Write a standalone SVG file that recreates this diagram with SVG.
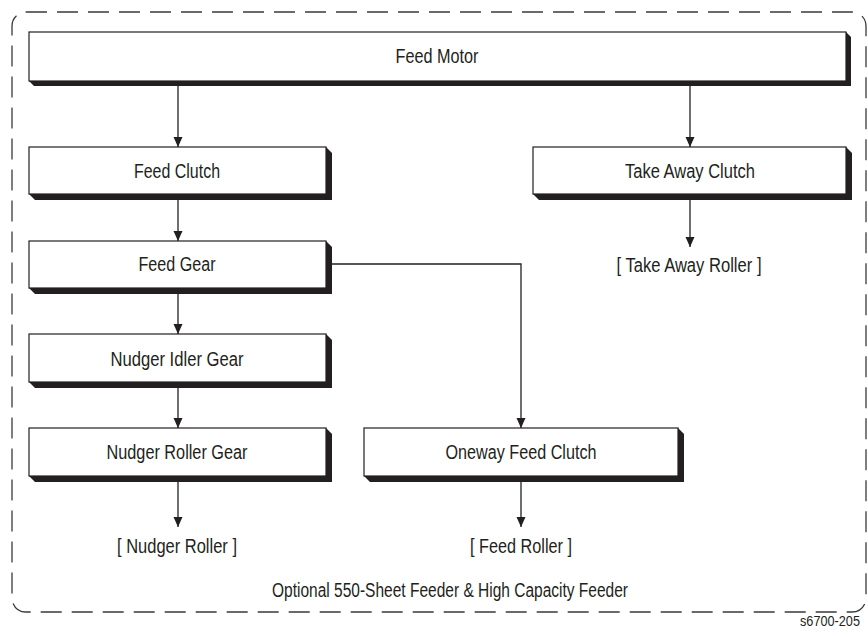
<svg xmlns="http://www.w3.org/2000/svg" width="868" height="637" viewBox="0 0 868 637">
  <style>
    .frame { fill: none; stroke: #3a3a3a; stroke-width: 1.3; stroke-dasharray: 21 10; }
    .box { fill: #ffffff; stroke: #231f20; stroke-width: 1.2; }
    .shadow { fill: #231f20; }
    .lbl { font-family: "Liberation Sans", Arial, sans-serif; font-size: 19.5px; fill: #231f20; text-anchor: middle; }
    .small { font-size: 15px; text-anchor: end; }
    .conn { fill: none; stroke: #231f20; stroke-width: 1.3; }
  </style>
  <defs>
    <marker id="arrow" markerUnits="userSpaceOnUse" markerWidth="10" markerHeight="11" refX="10" refY="5" orient="auto">
      <path d="M0,0.5 L10,5 L0,9.5 z" fill="#231f20"/>
    </marker>
  </defs>
  <rect class="frame" x="12" y="12" width="854" height="600" rx="14" ry="14"/>

  <g id="feed-motor">
    <polygon class="shadow" points="29,81 34,86 851,86 851,37 846,32"/>
    <rect class="box" x="29" y="32" width="817" height="49"/>
    <text class="lbl" x="437" y="63" textLength="83" lengthAdjust="spacingAndGlyphs">Feed Motor</text>
  </g>
  <g id="feed-clutch">
    <polygon class="shadow" points="29,194 35,200 332,200 332,153 326,147"/>
    <rect class="box" x="29" y="147" width="297" height="47"/>
    <text class="lbl" x="177" y="178" textLength="86" lengthAdjust="spacingAndGlyphs">Feed Clutch</text>
  </g>
  <g id="take-away-clutch">
    <polygon class="shadow" points="533,194 539,200 852,200 852,153 846,147"/>
    <rect class="box" x="533" y="147" width="313" height="47"/>
    <text class="lbl" x="690" y="178" textLength="130" lengthAdjust="spacingAndGlyphs">Take Away Clutch</text>
  </g>
  <g id="take-away-roller">
    <text class="lbl" x="689" y="272" textLength="145" lengthAdjust="spacingAndGlyphs">[ Take Away Roller ]</text>
  </g>
  <g id="feed-gear">
    <polygon class="shadow" points="29,288 35,294 332,294 332,247 326,241"/>
    <rect class="box" x="29" y="241" width="297" height="47"/>
    <text class="lbl" x="177" y="271" textLength="77" lengthAdjust="spacingAndGlyphs">Feed Gear</text>
  </g>
  <g id="nudger-idler-gear">
    <polygon class="shadow" points="29,382 35,388 332,388 332,340 326,334"/>
    <rect class="box" x="29" y="334" width="297" height="48"/>
    <text class="lbl" x="177" y="366" textLength="133" lengthAdjust="spacingAndGlyphs">Nudger Idler Gear</text>
  </g>
  <g id="nudger-roller-gear">
    <polygon class="shadow" points="29,476 35,482 332,482 332,434 326,428"/>
    <rect class="box" x="29" y="428" width="297" height="48"/>
    <text class="lbl" x="177" y="459" textLength="141" lengthAdjust="spacingAndGlyphs">Nudger Roller Gear</text>
  </g>
  <g id="oneway-feed-clutch">
    <polygon class="shadow" points="364,476 370,482 684,482 684,434 678,428"/>
    <rect class="box" x="364" y="428" width="314" height="48"/>
    <text class="lbl" x="521" y="459" textLength="151" lengthAdjust="spacingAndGlyphs">Oneway Feed Clutch</text>
  </g>
  <g id="nudger-roller">
    <text class="lbl" x="177" y="553" textLength="120" lengthAdjust="spacingAndGlyphs">[ Nudger Roller ]</text>
  </g>
  <g id="feed-roller">
    <text class="lbl" x="521" y="553" textLength="102" lengthAdjust="spacingAndGlyphs">[ Feed Roller ]</text>
  </g>

  <g id="connectors">
    <line class="conn" x1="178" y1="86" x2="178" y2="147" marker-end="url(#arrow)"/>
    <line class="conn" x1="690" y1="86" x2="690" y2="147" marker-end="url(#arrow)"/>
    <line class="conn" x1="178" y1="200" x2="178" y2="241" marker-end="url(#arrow)"/>
    <line class="conn" x1="690" y1="200" x2="690" y2="247" marker-end="url(#arrow)"/>
    <line class="conn" x1="178" y1="294" x2="178" y2="334" marker-end="url(#arrow)"/>
    <line class="conn" x1="178" y1="388" x2="178" y2="428" marker-end="url(#arrow)"/>
    <line class="conn" x1="178" y1="482" x2="178" y2="527" marker-end="url(#arrow)"/>
    <path class="conn" d="M332,264 H521 V428" marker-end="url(#arrow)"/>
    <line class="conn" x1="521" y1="482" x2="521" y2="527" marker-end="url(#arrow)"/>
  </g>

  <text class="lbl" x="450" y="597" textLength="356" lengthAdjust="spacingAndGlyphs">Optional 550-Sheet Feeder &amp; High Capacity Feeder</text>
  <text class="lbl small" x="860" y="626" textLength="60" lengthAdjust="spacingAndGlyphs">s6700-205</text>
</svg>
